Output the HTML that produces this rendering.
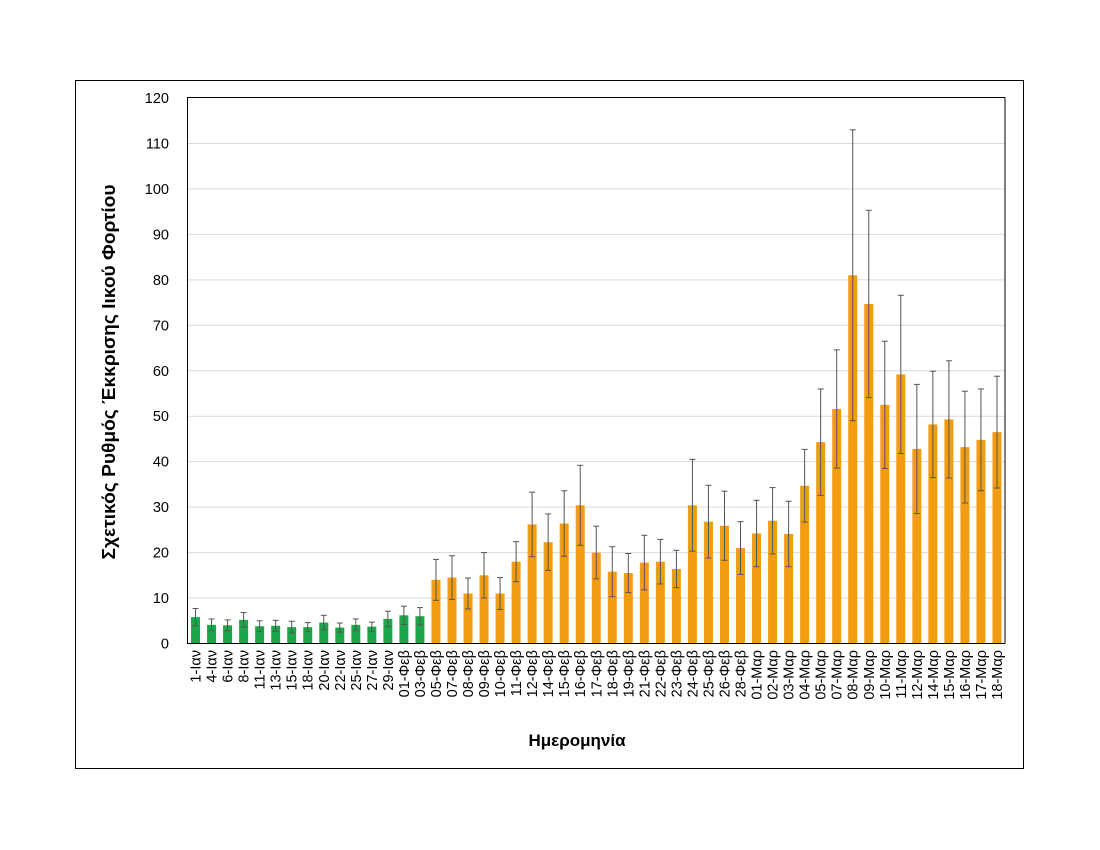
<!DOCTYPE html>
<html><head><meta charset="utf-8"><style>body{margin:0;background:#fff}svg{display:block;font-family:"Liberation Sans","DejaVu Sans",sans-serif}</style></head>
<body>
<svg id="s" width="1100" height="850" xmlns="http://www.w3.org/2000/svg">
<rect x="75.5" y="80.5" width="948" height="688" fill="#fff" stroke="#000" stroke-width="1"/>
<g id="grid"></g>
<g id="bars"></g>
<line x1="187.5" y1="97" x2="187.5" y2="643.5" stroke="#000"/>
<line x1="187" y1="643.5" x2="1005" y2="643.5" stroke="#000"/>
<line x1="1005" y1="97.5" x2="1005" y2="643.5" stroke="#000"/>
<line x1="187" y1="97.5" x2="1005" y2="97.5" stroke="#000"/>
<text x="577" y="746" text-anchor="middle" font-size="17" font-weight="bold">Ημερομηνία</text>
<text transform="translate(115,372) rotate(-90)" text-anchor="middle" font-size="18" font-weight="bold" textLength="375" lengthAdjust="spacingAndGlyphs">Σχετικός Ρυθμός Έκκρισης Ιικού Φορτίου</text>
</svg>
<script>
const d=[["1-Ιαν",5.8,1.9],["4-Ιαν",4.1,1.3],["6-Ιαν",4.0,1.2],["8-Ιαν",5.2,1.6],["11-Ιαν",3.8,1.2],["13-Ιαν",3.9,1.2],["15-Ιαν",3.6,1.3],["18-Ιαν",3.6,1.0],["20-Ιαν",4.6,1.6],["22-Ιαν",3.5,1.0],["25-Ιαν",4.1,1.3],["27-Ιαν",3.7,1.0],["29-Ιαν",5.4,1.7],["01-Φεβ",6.2,2.0],["03-Φεβ",6.0,1.9],
["05-Φεβ",14,4.5],["07-Φεβ",14.5,4.8],["08-Φεβ",11,3.4],["09-Φεβ",15,5],["10-Φεβ",11,3.5],["11-Φεβ",18,4.4],["12-Φεβ",26.2,7.1],["14-Φεβ",22.3,6.2],["15-Φεβ",26.4,7.2],["16-Φεβ",30.4,8.8],["17-Φεβ",20,5.8],["18-Φεβ",15.8,5.5],["19-Φεβ",15.5,4.3],["21-Φεβ",17.8,6],["22-Φεβ",18,4.9],["23-Φεβ",16.4,4.1],["24-Φεβ",30.4,10.1],["25-Φεβ",26.8,8],["26-Φεβ",25.9,7.6],["28-Φεβ",21,5.8],
["01-Μαρ",24.2,7.3],["02-Μαρ",27,7.3],["03-Μαρ",24.1,7.2],["04-Μαρ",34.7,8],["05-Μαρ",44.3,11.7],["07-Μαρ",51.6,13],["08-Μαρ",81,32],["09-Μαρ",74.7,20.6],["10-Μαρ",52.5,14],["11-Μαρ",59.2,17.4],["12-Μαρ",42.8,14.2],["14-Μαρ",48.2,11.7],["15-Μαρ",49.3,12.9],["16-Μαρ",43.2,12.3],["17-Μαρ",44.8,11.2],["18-Μαρ",46.5,12.3]];
const y0=643.5,k=545.5/120,x0=187.5,w=(1005-187.5)/d.length;
let g="",b="";
for(let v=0;v<=120;v+=10){const y=y0-v*k;if(v>0&&v<120)g+=`<line x1="188" x2="1005" y1="${y}" y2="${y}" stroke="#d9d9d9"/>`;g+=`<text x="169" y="${y+5}" text-anchor="end" font-size="14.5">${v}</text>`;}
d.forEach((r,i)=>{const cx=x0+w*(i+.5),h=r[1]*k,c=i<15?"#1ba64a":"#f39c12";
b+=`<rect x="${cx-4.5}" y="${y0-h}" width="9" height="${h}" fill="${c}"/>`;
const t=y0-(r[1]+r[2])*k,bo=y0-(r[1]-r[2])*k;
b+=`<line x1="${cx}" x2="${cx}" y1="${t}" y2="${bo}" stroke="#555" stroke-width="1"/><line x1="${cx-3}" x2="${cx+3}" y1="${t}" y2="${t}" stroke="#555"/><line x1="${cx-3}" x2="${cx+3}" y1="${bo}" y2="${bo}" stroke="#555"/>`;
b+=`<text transform="translate(${cx+5},650) rotate(-90)" text-anchor="end" font-size="14.5">${r[0]}</text>`;});
document.getElementById("grid").innerHTML=g;document.getElementById("bars").innerHTML=b;
</script>
</body></html>
